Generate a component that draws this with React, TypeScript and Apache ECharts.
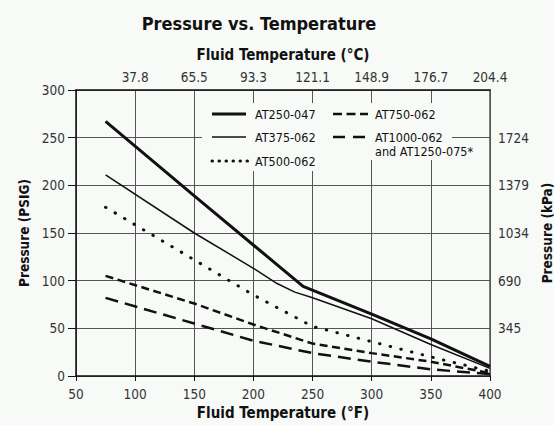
import { useEffect, useRef } from "react";
import * as echarts from "echarts";

const FONT = '"DejaVu Sans Condensed", "DejaVu Sans", sans-serif';
const BG = "#f7faf7";
const INK = "#111";

const titleText = "Pressure vs. Temperature";
const xNameF = "Fluid Temperature (°F)";
const xNameC = "Fluid Temperature (°C)";
const yNamePsig = "Pressure (PSIG)";
const yNameKpa = "Pressure (kPa)";

const celsiusLabels = ["", "37.8", "65.5", "93.3", "121.1", "148.9", "176.7", "204.4"];
const kpaLabels = ["", "345", "690", "1034", "1379", "1724", ""];

const seriesNames = ["AT250-047", "AT375-062", "AT500-062", "AT750-062", "AT1000-062\nand AT1250-075*"];

// [°F, PSIG]
const at250_047 = [[75, 267], [150, 189], [242, 94], [300, 65], [350, 39], [400, 10]];
const at375_062 = [[75, 211], [150, 150], [200, 113], [220, 97], [235, 88], [250, 82], [300, 60], [350, 33], [400, 8]];
const at500_062 = [[75, 177], [200, 85], [250, 52], [300, 36], [350, 20], [400, 5]];
const at750_062 = [[75, 105], [150, 76], [200, 54], [250, 34], [300, 24], [350, 15], [400, 3]];
const at1000_062 = [[75, 82], [150, 55], [200, 37], [250, 24], [300, 15], [350, 7], [400, 2]];

const seriesData = [at250_047, at375_062, at500_062, at750_062, at1000_062];

const lineStyles = [
  { width: 3, type: "solid" as any, cap: "butt" },
  { width: 1.5, type: "solid" as any, cap: "butt" },
  { width: 3, type: [0.5, 10.5] as any, cap: "round" },
  { width: 2.5, type: [8, 4.5] as any, cap: "butt" },
  { width: 2.5, type: [13, 7] as any, cap: "butt" },
];
const legendDash: (number[] | null)[] = [null, null, [0.5, 6.5], [9, 4.5], [12, 8]];
const legendPos = [
  { x1: 212, x2: 246, tx: 255, y: 114 },
  { x1: 212, x2: 246, tx: 255, y: 137 },
  { x1: 212, x2: 248, tx: 255, y: 161 },
  { x1: 333, x2: 368, tx: 375, y: 114 },
  { x1: 333, x2: 368, tx: 375, y: 137 },
];

export default function App() {
  const ref = useRef<HTMLDivElement>(null);
  useEffect(() => {
    const chart = echarts.init(ref.current!, null, { renderer: "svg" });
    const labelStyle = { fontFamily: FONT, fontSize: 13.5, color: "#333" };
    const nameStyle = { fontFamily: FONT, fontSize: 15, fontWeight: "bold" as const, color: INK };
    const axisLine = { show: true, onZero: false, lineStyle: { color: INK, width: 1.5 } };

    const legendGraphics: any[] = [
      { type: "rect", shape: { x: 202, y: 103, width: 120, height: 68 }, style: { fill: BG }, z: 5 },
      { type: "rect", shape: { x: 322, y: 103, width: 130, height: 57 }, style: { fill: BG }, z: 5 },
    ];
    seriesNames.forEach((name, i) => {
      const p = legendPos[i];
      const st = lineStyles[i];
      legendGraphics.push({
        type: "line",
        z: 6,
        shape: { x1: p.x1, y1: p.y, x2: p.x2, y2: p.y },
        style: {
          stroke: INK,
          lineWidth: st.width,
          lineDash: legendDash[i] || undefined,
          lineCap: st.cap,
        },
      });
      legendGraphics.push({
        type: "text",
        z: 6,
        x: p.tx,
        y: p.y - 7,
        style: {
          text: name,
          fontFamily: FONT,
          fontSize: 12.5,
          lineHeight: 14.5,
          fill: INK,
          textVerticalAlign: "top",
          verticalAlign: "top",
        },
      });
    });

    chart.setOption({
      animation: false,
      backgroundColor: BG,
      title: {
        text: titleText,
        left: 254,
        top: 9,
        textAlign: "center",
        textStyle: { fontFamily: FONT, fontSize: 18, fontWeight: "bold", color: INK },
      },
      grid: { left: 76, top: 90, right: 64, bottom: 49, containLabel: false, outerBoundsMode: "none" },
      xAxis: [
        {
          type: "value",
          position: "bottom",
          min: 50,
          max: 400,
          interval: 50,
          name: xNameF,
          nameLocation: "middle",
          nameGap: 22,
          nameTextStyle: nameStyle,
          axisLine,
          axisTick: { show: true, length: 5, lineStyle: { color: INK, width: 1 } },
          axisLabel: { ...labelStyle, margin: 11 },
          splitLine: { show: true, lineStyle: { color: "#555", width: 1 } },
        },
        {
          type: "value",
          position: "top",
          min: 50,
          max: 400,
          interval: 50,
          name: xNameC,
          nameLocation: "middle",
          nameGap: 28,
          nameTextStyle: nameStyle,
          axisLine,
          axisTick: { show: false },
          axisLabel: {
            ...labelStyle,
            margin: 6,
            formatter: (v: number) => celsiusLabels[Math.round((v - 50) / 50)] ?? "",
          },
          splitLine: { show: false },
        },
      ],
      yAxis: [
        {
          type: "value",
          position: "left",
          min: 0,
          max: 300,
          interval: 50,
          name: yNamePsig,
          nameLocation: "middle",
          nameGap: 44,
          nameTextStyle: { ...nameStyle, fontSize: 13.5 },
          axisLine,
          axisTick: { show: true, length: 8, lineStyle: { color: INK, width: 1 } },
          axisLabel: { ...labelStyle, margin: 11 },
          splitLine: { show: true, lineStyle: { color: "#555", width: 1 } },
        },
        {
          type: "value",
          position: "right",
          min: 0,
          max: 300,
          interval: 50,
          name: yNameKpa,
          nameLocation: "middle",
          nameGap: 50,
          nameTextStyle: { ...nameStyle, fontSize: 13.5 },
          axisLine: { show: true, onZero: false, lineStyle: { color: "#555", width: 1.5 } },
          axisTick: { show: false },
          axisLabel: {
            ...labelStyle,
            margin: 8,
            formatter: (v: number) => kpaLabels[Math.round(v / 50)] ?? "",
          },
          splitLine: { show: false },
        },
      ],
      series: seriesData.map((d, i) => ({
        type: "line",
        name: seriesNames[i],
        data: d,
        xAxisIndex: 0,
        yAxisIndex: 0,
        symbol: "none",
        showSymbol: false,
        z: 3,
        lineStyle: {
          color: INK,
          width: lineStyles[i].width,
          type: lineStyles[i].type,
          cap: lineStyles[i].cap,
        },
      })),
      graphic: legendGraphics,
    });
    return () => chart.dispose();
  }, []);
  return (
    <div
      ref={ref}
      style={{ position: "fixed", left: 0, top: 0, width: 554, height: 425 }}
    />
  );
}
